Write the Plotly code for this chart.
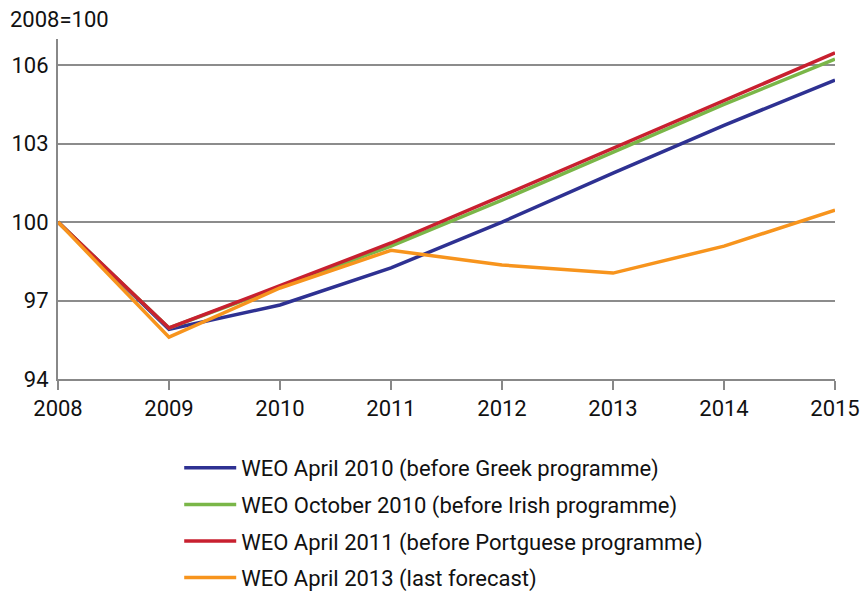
import plotly.graph_objects as go

years = [2008, 2009, 2010, 2011, 2012, 2013, 2014, 2015]
weo_apr2010 = [100, 95.9, 96.83, 98.25, 100.0, 101.87, 103.7, 105.43]
weo_oct2010 = [100, 95.95, 97.52, 99.08, 100.84, 102.67, 104.5, 106.23]
weo_apr2011 = [100, 95.95, 97.57, 99.2, 101.0, 102.83, 104.64, 106.47]
weo_apr2013 = [100, 95.6, 97.48, 98.92, 98.36, 98.05, 99.08, 100.46]

names = [
    "WEO April 2010 (before Greek programme)",
    "WEO October 2010 (before Irish programme)",
    "WEO April 2011 (before Portguese programme)",
    "WEO April 2013 (last forecast)",
]
colors = ["#2e3192", "#7ab648", "#c8202f", "#f7941d"]
series = [weo_apr2010, weo_oct2010, weo_apr2011, weo_apr2013]
y_ticks = [94, 97, 100, 103, 106]

fig = go.Figure()
for i, (name, vals, col) in enumerate(zip(names, series, colors)):
    fig.add_trace(go.Scatter(x=years, y=vals, mode="lines", name=name,
                             legendgroup=f"g{i}",
                             line=dict(color=col, width=3.5)))

# emphasised 100 line
fig.add_shape(type="line", xref="paper", x0=0, x1=1, yref="y", y0=100, y1=100,
              line=dict(color="#222222", width=1.5), layer="below")

font = "Roboto, Liberation Sans, sans-serif"
fig.update_layout(
    width=863, height=594,
    margin=dict(l=58, r=28, t=39, b=215, autoexpand=False),
    plot_bgcolor="white", paper_bgcolor="white",
    font=dict(family=font, size=22, color="#111111"),
    showlegend=True,
    legend=dict(x=0.156, y=-0.2, xanchor="left", yanchor="top",
                font=dict(size=22), tracegroupgap=5, itemwidth=52),
    xaxis=dict(range=[2008, 2015], tickvals=years, showgrid=False,
               showline=True, linecolor="#888888", linewidth=2,
               ticks="outside", ticklen=9, tickcolor="#888888", tickwidth=1.5,
               zeroline=False, automargin=False),
    yaxis=dict(range=[94, 107], tickvals=y_ticks, showgrid=True,
               gridcolor="#8c8c8c", gridwidth=1.5,
               showline=True, linecolor="#888888", linewidth=2,
               ticks="", zeroline=False, ticklabelstandoff=3, automargin=False),
    annotations=[dict(text="2008=100", xref="paper", yref="paper",
                      x=-0.0644, y=1.1, xanchor="left", yanchor="top",
                      showarrow=False, font=dict(size=22))],
)

fig.write_html("out.html", config={"displayModeBar": False},
               post_script="document.body.style.margin='0px';")
